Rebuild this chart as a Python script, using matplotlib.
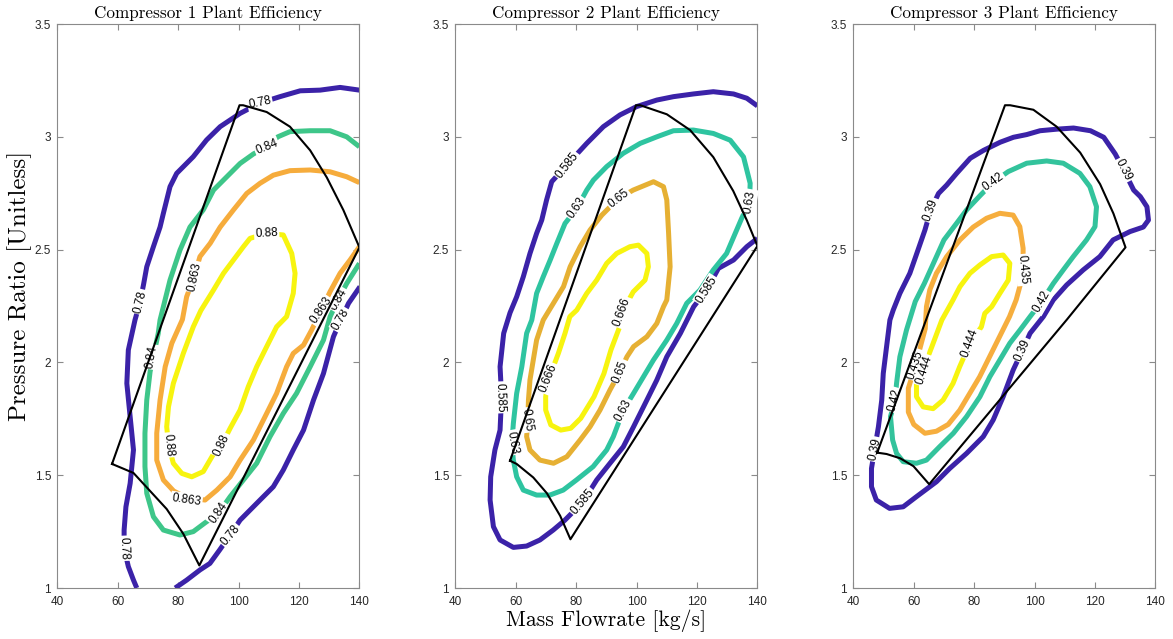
import matplotlib
matplotlib.use("Agg")
import matplotlib.pyplot as plt
from matplotlib.ticker import FuncFormatter

# ---------------- Compressor 1 ----------------
c1_levels = ["0.78", "0.84", "0.863", "0.88"]

c1_bound_x = [58.1, 100.3, 101.5, 109.3, 117.0, 123.7, 129.2, 134.7, 140.0, 87.0, 81.7, 76.2, 70.7, 65.2, 58.1]
c1_bound_y = [1.55, 3.14, 3.14, 3.11, 3.045, 2.94, 2.82, 2.675, 2.51, 1.10, 1.24, 1.35, 1.43, 1.51, 1.55]

c1_078a_x = [140.0, 133.6, 127.0, 120.4, 113.7, 107.1, 100.5, 93.9, 89.4, 85.0, 79.5, 77.3, 75.1, 74.0, 71.8,
             69.6, 68.5, 67.4, 65.7, 63.5, 63.0, 64.1, 65.2, 64.1, 62.7, 62.1, 62.1, 63.5, 65.2, 66.3]
c1_078a_y = [3.207, 3.219, 3.207, 3.204, 3.178, 3.15, 3.104, 3.045, 2.986, 2.912, 2.838, 2.779, 2.661, 2.60, 2.513,
             2.424, 2.343, 2.269, 2.188, 2.055, 1.907, 1.759, 1.612, 1.464, 1.36, 1.257, 1.176, 1.095, 1.035, 1.0]
c1_078b_x = [79.0, 82.8, 87.2, 90.5, 93.8, 97.2, 100.5, 107.1, 111.5, 114.8, 118.1, 121.5, 124.8, 128.1, 131.4,
             133.9, 136.4, 140.2]
c1_078b_y = [1.0, 1.035, 1.08, 1.109, 1.17, 1.235, 1.301, 1.39, 1.449, 1.523, 1.612, 1.70, 1.833, 1.951, 2.114,
             2.19, 2.262, 2.336]
c1_084_x = [140.0, 135.8, 130.3, 123.7, 117.0, 113.0, 109.3, 104.9, 100.5, 96.1, 91.7, 88.3, 83.9, 80.6, 77.3,
            74.0, 73.4, 72.0, 70.7, 69.6, 69.0, 69.0, 69.6, 71.8, 75.1, 80.6, 85.0, 89.0, 93.3, 97.2,
            101.6, 106.0, 110.4, 114.8, 119.2, 123.7, 128.1, 130.3, 133.0, 135.8, 140.0]
c1_084_y = [2.956, 3.0, 3.027, 3.027, 3.023, 3.0, 2.956, 2.924, 2.882, 2.823, 2.764, 2.676, 2.60, 2.498, 2.365,
            2.188, 2.129, 2.04, 1.959, 1.833, 1.686, 1.538, 1.42, 1.316, 1.257, 1.235, 1.25, 1.29, 1.331, 1.405,
            1.479, 1.553, 1.671, 1.774, 1.863, 1.981, 2.099, 2.203, 2.28, 2.35, 2.439]
c1_0863_x = [140.0, 135.8, 130.3, 123.7, 117.0, 111.5, 107.1, 102.7, 98.3, 93.9, 90.6, 87.2, 85.3, 82.8, 81.4,
             77.9, 75.7, 74.0, 72.9, 72.9, 75.1, 78.5, 82.8, 88.9, 92.8, 97.2, 100.5, 104.9, 109.3, 112.6,
             115.9, 118.1, 121.5, 124.2, 127.3, 130.3, 133.6, 136.9, 140.0]
c1_0863_y = [2.797, 2.823, 2.845, 2.853, 2.85, 2.83, 2.794, 2.749, 2.676, 2.60, 2.528, 2.469, 2.38, 2.291, 2.19,
             2.085, 1.981, 1.833, 1.686, 1.567, 1.479, 1.43, 1.40, 1.39, 1.434, 1.493, 1.567, 1.656, 1.774, 1.863,
             1.981, 2.04, 2.077, 2.144, 2.23, 2.314, 2.395, 2.454, 2.513]
c1_088_x = [109.3, 114.8, 117.6, 118.7, 118.1, 115.9, 112.6, 109.3, 106.0, 103.2, 100.5, 97.2, 94.4, 91.7, 88.3,
            84.5, 81.2, 78.4, 76.8, 76.2, 76.8, 78.4, 81.7, 85.0, 87.5, 91.7, 95.0, 98.3, 101.6, 103.8, 109.3]
c1_088_y = [2.572, 2.565, 2.483, 2.395, 2.306, 2.203, 2.158, 2.07, 1.981, 1.892, 1.789, 1.708, 1.634, 1.594, 1.516,
            1.493, 1.508, 1.553, 1.634, 1.715, 1.804, 1.907, 2.04, 2.158, 2.23, 2.321, 2.395, 2.454, 2.513, 2.55, 2.572]

# label positions (x, y, rotation in degrees)
c1_078_labels = [(107.1, 3.15, 12), (67.4, 2.269, 76), (62.1, 1.176, -88), (97.2, 1.235, 50), (133.9, 2.19, 60)]
c1_084_labels = [(109.3, 2.956, 22), (71.2, 2.025, 80), (93.3, 1.331, 55), (133.0, 2.28, 60)]
c1_0863_labels = [(85.3, 2.38, 78), (82.8, 1.39, -8), (127.3, 2.23, 56)]
c1_088_labels = [(109.3, 2.572, 3), (76.8, 1.634, -85), (94.4, 1.634, 65)]

# ---------------- Compressor 2 ----------------
c2_levels = ["0.585", "0.63", "0.65", "0.666"]

c2_bound_x = [58.1, 99.8, 101.2, 110.0, 117.7, 125.4, 132.0, 136.5, 140.0, 78.1, 74.7, 70.3, 65.8, 60.3, 58.1]
c2_bound_y = [1.564, 3.14, 3.14, 3.10, 3.03, 2.91, 2.76, 2.63, 2.516, 1.216, 1.32, 1.42, 1.49, 1.55, 1.564]

c2_0585_x = [140.0, 136.5, 132.1, 125.4, 118.8, 112.2, 106.7, 100.0, 94.5, 89.0, 83.5, 76.9, 71.9, 70.2, 68.6,
             66.9, 64.7, 62.5, 60.3, 58.1, 56.0, 54.8, 55.3, 54.8, 53.1, 51.7, 51.5, 52.6, 54.8, 59.2,
             63.6, 68.0, 72.4, 76.2, 82.2, 86.8, 91.2, 95.6, 99.0, 103.4, 106.7, 110.0, 114.5, 118.9, 123.2,
             127.1, 132.1, 136.5, 140.0]
c2_0585_y = [3.137, 3.171, 3.19, 3.20, 3.19, 3.178, 3.163, 3.134, 3.097, 3.045, 2.971, 2.875, 2.801, 2.72, 2.631,
             2.572, 2.483, 2.38, 2.291, 2.22, 2.129, 1.981, 1.848, 1.70, 1.612, 1.493, 1.39, 1.272, 1.213, 1.18,
             1.186, 1.213, 1.257, 1.30, 1.381, 1.479, 1.553, 1.626, 1.715, 1.833, 1.922, 2.025, 2.129, 2.247, 2.321,
             2.417, 2.454, 2.513, 2.55]
c2_063_x = [137.4, 137.6, 135.4, 131.0, 125.4, 118.8, 112.2, 106.7, 101.2, 95.6, 90.1, 85.7, 83.5, 80.2, 76.3,
            73.6, 71.4, 69.1, 66.9, 65.3, 63.6, 62.0, 60.3, 59.2, 58.7, 59.2, 60.3, 62.5, 66.9, 71.3,
            75.7, 80.1, 85.6, 90.1, 92.3, 95.6, 99.0, 102.3, 105.6, 110.0, 113.3, 116.6, 121.0, 125.4, 129.8,
            134.8, 137.4]
c2_063_y = [2.712, 2.794, 2.911, 2.985, 3.015, 3.03, 3.027, 3.0, 2.971, 2.927, 2.868, 2.808, 2.764, 2.683, 2.616,
            2.528, 2.454, 2.38, 2.306, 2.188, 2.129, 1.981, 1.863, 1.73, 1.641, 1.567, 1.493, 1.434, 1.412, 1.412,
            1.434, 1.479, 1.538, 1.612, 1.671, 1.788, 1.863, 1.937, 2.011, 2.099, 2.173, 2.262, 2.321, 2.41, 2.483,
            2.639, 2.712]
c2_065_x = [94.0, 98.9, 105.6, 108.9, 110.0, 110.6, 111.1, 110.0, 108.9, 106.7, 103.4, 99.0, 96.8, 94.5, 91.2,
            87.9, 84.6, 81.3, 76.9, 72.5, 68.0, 64.7, 63.6, 64.0, 64.2, 64.7, 65.8, 66.9, 69.1,
            75.8, 78.0, 81.3, 84.6, 88.5, 94.0]
c2_065_y = [2.727, 2.764, 2.801, 2.779, 2.72, 2.572, 2.424, 2.277, 2.247, 2.173, 2.114, 2.07, 2.025, 1.959, 1.878,
            1.789, 1.715, 1.656, 1.582, 1.553, 1.567, 1.612, 1.671, 1.752, 1.833, 1.922, 2.011, 2.099, 2.188,
            2.336, 2.424, 2.513, 2.587, 2.653, 2.727]
c2_0666_x = [95.2, 98.9, 102.8, 103.9, 103.4, 100.6, 97.8, 93.4, 90.1, 86.8, 83.5, 80.2, 77.9, 76.3, 74.1,
             70.8, 69.9, 69.9, 71.6, 74.9, 78.2, 81.5, 85.9, 89.2, 91.5, 94.2, 95.2]
c2_0666_y = [2.223, 2.313, 2.365, 2.424, 2.483, 2.52, 2.513, 2.483, 2.439, 2.365, 2.306, 2.232, 2.203, 2.129, 2.04,
             1.922, 1.848, 1.789, 1.723, 1.70, 1.708, 1.752, 1.848, 1.951, 2.055, 2.151, 2.223]

c2_0585_labels = [(76.9, 2.875, 52), (54.8, 1.845, -88), (82.2, 1.381, 50), (123.2, 2.321, 58)]
c2_063_labels = [(80.2, 2.683, 55), (137.4, 2.712, 80), (59.0, 1.645, -80), (95.6, 1.788, 62)]
c2_065_labels = [(94.0, 2.727, 38), (63.8, 1.745, -82), (94.5, 1.959, 68)]
c2_0666_labels = [(95.2, 2.223, 70), (70.8, 1.93, 68)]

# ---------------- Compressor 3 ----------------
c3_levels = ["0.39", "0.42", "0.435", "0.444"]

c3_bound_x = [47.9, 90.2, 91.9, 99.6, 107.3, 115.1, 121.7, 126.1, 130.1, 110.7, 65.1, 59.9, 55.5, 51.0, 47.9]
c3_bound_y = [1.60, 3.14, 3.14, 3.12, 3.045, 2.93, 2.79, 2.66, 2.51, 2.19, 1.46, 1.54, 1.575, 1.594, 1.60]

c3_039_x = [129.5, 126.7, 122.9, 118.5, 112.9, 107.4, 101.8, 97.4, 93.0, 88.6, 83.1, 78.7, 74.2, 70.9, 68.2,
            65.6, 63.7, 61.0, 58.7, 55.4, 53.2, 52.1, 51.0, 49.9, 49.4, 48.3, 47.1, 46.0, 46.0, 47.6,
            52.0, 56.5, 60.9, 64.2, 67.5, 71.9, 77.5, 83.0, 86.3, 89.6, 92.9, 96.0, 98.5, 102.9, 106.2,
            110.6, 116.1, 121.6, 126.0, 131.6, 136.0, 137.7, 137.2, 135.0, 132.8, 129.5]
c3_039_y = [2.853, 2.924, 2.998, 3.027, 3.039, 3.034, 3.027, 3.01, 2.998, 2.976, 2.94, 2.905, 2.838, 2.786, 2.749,
            2.676, 2.587, 2.483, 2.395, 2.306, 2.232, 2.188, 2.07, 1.951, 1.833, 1.715, 1.619, 1.53, 1.449, 1.39,
            1.353, 1.36, 1.405, 1.438, 1.471, 1.53, 1.597, 1.671, 1.745, 1.848, 1.966, 2.055, 2.129, 2.203, 2.277,
            2.343, 2.41, 2.469, 2.543, 2.58, 2.60, 2.631, 2.69, 2.735, 2.764, 2.853]
c3_042_x = [86.4, 91.3, 97.4, 104.0, 109.5, 115.0, 118.3, 120.5, 120.0, 117.2, 112.8, 109.5, 106.2, 102.3, 98.5,
            95.2, 91.8, 88.5, 85.2, 81.9, 77.5, 73.1, 68.6, 64.2, 60.9, 56.5, 54.3, 53.0, 52.3, 53.8,
            54.3, 55.4, 57.6, 60.5, 63.5, 66.5, 70.0, 74.2, 77.5, 82.0, 86.4]
c3_042_y = [2.80, 2.846, 2.883, 2.893, 2.883, 2.838, 2.779, 2.69, 2.602, 2.543, 2.469, 2.41, 2.35, 2.269, 2.203,
            2.144, 2.085, 2.011, 1.937, 1.848, 1.76, 1.686, 1.627, 1.567, 1.553, 1.56, 1.597, 1.656, 1.76, 1.833,
            1.907, 2.025, 2.144, 2.27, 2.35, 2.439, 2.543, 2.617, 2.676, 2.74, 2.80]
c3_0435_x = [96.2, 96.2, 95.1, 92.9, 88.5, 84.1, 79.7, 75.3, 70.9, 67.5, 65.3, 64.2, 63.8, 60.4, 58.2,
             58.2, 60.0, 63.7, 67.5, 71.4, 75.2, 78.5, 81.8, 85.1, 88.4, 91.7, 93.9, 95.1, 96.2]
c3_0435_y = [2.41, 2.506, 2.602, 2.653, 2.661, 2.639, 2.60, 2.543, 2.469, 2.395, 2.321, 2.247, 2.15, 1.98, 1.885,
             1.78, 1.725, 1.686, 1.695, 1.725, 1.788, 1.862, 1.936, 2.025, 2.114, 2.203, 2.277, 2.336, 2.41]
c3_0444_x = [78.6, 82.4, 83.5, 85.8, 88.5, 91.3, 91.8, 89.6, 85.8, 81.9, 78.6, 75.3, 73.0, 69.3, 66.0,
             63.4, 60.9, 60.9, 63.1, 66.4, 69.7, 73.0, 75.2, 78.6]
c3_0444_y = [2.085, 2.158, 2.217, 2.247, 2.306, 2.365, 2.439, 2.476, 2.469, 2.432, 2.395, 2.336, 2.277, 2.188, 2.07,
             1.98, 1.907, 1.848, 1.803, 1.795, 1.833, 1.907, 1.981, 2.085]

c3_039_labels = [(65.6, 2.676, 70), (129.5, 2.853, -63), (47.2, 1.615, 78), (96.0, 2.055, 66)]
c3_042_labels = [(86.4, 2.80, 35), (102.3, 2.269, 60), (53.8, 1.833, 75)]
c3_0435_labels = [(96.2, 2.41, -85), (60.6, 1.99, 72)]
c3_0444_labels = [(78.6, 2.085, 70), (63.6, 1.965, 72)]

# ---------------- styling ----------------
BLUE = "#3B22A8"
YELLOW = "#F7F40F"
panel_colors = [
    [BLUE, "#3EC689", "#F6AC3C", YELLOW],
    [BLUE, "#2EC4A0", "#E6B033", YELLOW],
    [BLUE, "#33C39C", "#F6AE3E", YELLOW],
]

panels = [
    dict(title="Compressor 1 Plant Efficiency", levels=c1_levels, bound=(c1_bound_x, c1_bound_y),
         lines=[[(c1_078a_x, c1_078a_y), (c1_078b_x, c1_078b_y)], [(c1_084_x, c1_084_y)],
                [(c1_0863_x, c1_0863_y)], [(c1_088_x, c1_088_y)]],
         labels=[c1_078_labels, c1_084_labels, c1_0863_labels, c1_088_labels]),
    dict(title="Compressor 2 Plant Efficiency", levels=c2_levels, bound=(c2_bound_x, c2_bound_y),
         lines=[[(c2_0585_x, c2_0585_y)], [(c2_063_x, c2_063_y)],
                [(c2_065_x, c2_065_y)], [(c2_0666_x, c2_0666_y)]],
         labels=[c2_0585_labels, c2_063_labels, c2_065_labels, c2_0666_labels]),
    dict(title="Compressor 3 Plant Efficiency", levels=c3_levels, bound=(c3_bound_x, c3_bound_y),
         lines=[[(c3_039_x, c3_039_y)], [(c3_042_x, c3_042_y)],
                [(c3_0435_x, c3_0435_y)], [(c3_0444_x, c3_0444_y)]],
         labels=[c3_039_labels, c3_042_labels, c3_0435_labels, c3_0444_labels]),
]

fig = plt.figure(figsize=(11.73, 6.39), dpi=100)
lefts = [0.0489, 0.3882, 0.7275]

for i, p in enumerate(panels):
    ax = fig.add_axes([lefts[i], 0.0798, 0.2575, 0.8826])
    ax.set_xlim(40, 140)
    ax.set_ylim(1, 3.5)

    for lvl, segs, labs, col in zip(p["levels"], p["lines"], p["labels"], panel_colors[i]):
        for xs, ys in segs:
            ax.plot(xs, ys, color=col, lw=3.6, solid_capstyle="butt", solid_joinstyle="round", zorder=2)
        for lx, ly, rot in labs:
            ax.text(lx, ly, lvl, rotation=rot, rotation_mode="anchor", ha="center", va="center",
                    fontsize=8.5, family="Liberation Sans", color="black", zorder=3,
                    bbox=dict(boxstyle="square,pad=0.1", fc="white", ec="none"))

    bx, by = p["bound"]
    ax.plot(bx, by, color="black", lw=1.5, zorder=4)

    ax.set_xticks([40, 60, 80, 100, 120, 140])
    ax.set_yticks([1, 1.5, 2, 2.5, 3, 3.5])
    ax.yaxis.set_major_formatter(FuncFormatter(lambda v, _: f"{v:g}"))
    ax.tick_params(direction="in", length=4, width=0.8, color="#8a8a8a", labelcolor="#262626",
                   top=True, right=True, labelsize=8.5)
    ax.tick_params(axis="x", pad=6)
    ax.tick_params(axis="y", pad=4.5)
    for lab in ax.get_xticklabels() + ax.get_yticklabels():
        lab.set_family("Liberation Sans")
    for sp in ax.spines.values():
        sp.set_color("#8a8a8a")
        sp.set_linewidth(0.8)

    ax.set_title(p["title"], family="cmr10", fontsize=12.3, pad=4)
    if i == 0:
        ax.set_ylabel("Pressure Ratio [Unitless]", family="cmr10", fontsize=18)
        ax.yaxis.set_label_coords(-0.085, 0.535)
    if i == 1:
        ax.set_xlabel("Mass Flowrate [kg/s]", family="cmr10", fontsize=15.6, labelpad=1)

fig.savefig("out.png", dpi=100, facecolor="white")
